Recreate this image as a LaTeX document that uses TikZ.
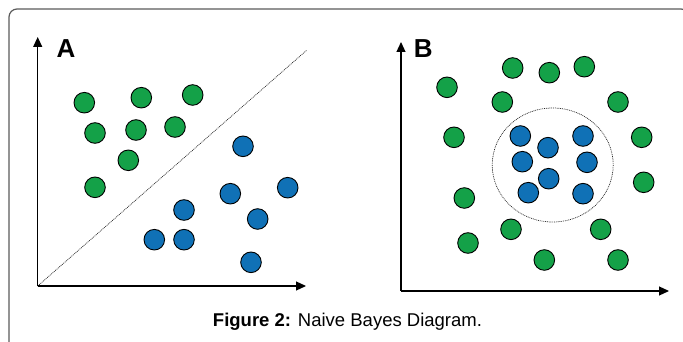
\documentclass[tikz,border=0pt]{standalone}
\usepackage{fontspec}
\setmainfont{Liberation Sans}
\usetikzlibrary{arrows.meta}
\definecolor{dotgreen}{RGB}{20,161,72}
\definecolor{dotblue}{RGB}{16,113,182}
\definecolor{framegray}{RGB}{90,90,90}
\tikzset{
  axis/.style={line width=1.2pt, black, -{Triangle[length=10pt,width=9pt]}},
  sep/.style={line width=0.7pt, black!85, dash pattern=on 0.9pt off 0.9pt},
  pt/.style={circle, draw=black, line width=0.9pt, minimum size=20.6pt, inner sep=0pt},
  gpt/.style={pt, fill=dotgreen},
  bpt/.style={pt, fill=dotblue},
  panel/.style={font=\fontsize{26}{30}\selectfont\bfseries, inner sep=0pt},
}
\begin{document}
\begin{tikzpicture}[x=1pt,y=-1pt]
\useasboundingbox (0,0) rectangle (683,342);
% outer frame, cut by the page edge on the right and bottom
\draw[framegray, line width=1.2pt, rounded corners=8pt] (9,9) rectangle (689,352);

% ---------- panel A ----------
\coordinate (oA) at (37.7,286);
\coordinate (yA) at (37.7,37);
\coordinate (xA) at (306,286);
\coordinate (sA) at (307,50);
\draw[sep] (oA) -- (sA);
\draw[axis] (oA) -- (yA);
\draw[axis] (oA) -- (xA);
\node[panel] (labA) at (66,49) {A};

\node[gpt] (ga1) at (84.3,102.7) {};
\node[gpt] (ga2) at (141.3,97.7) {};
\node[gpt] (ga3) at (192.7,95) {};
\node[gpt] (ga4) at (95,133) {};
\node[gpt] (ga5) at (136,130) {};
\node[gpt] (ga6) at (175,127) {};
\node[gpt] (ga7) at (128.3,160.3) {};
\node[gpt] (ga8) at (95,187.3) {};

\node[bpt] (ba1) at (243,146.3) {};
\node[bpt] (ba2) at (230.3,193.7) {};
\node[bpt] (ba3) at (287.7,187.7) {};
\node[bpt] (ba4) at (184,210) {};
\node[bpt] (ba5) at (257.7,219) {};
\node[bpt] (ba6) at (154.3,239.7) {};
\node[bpt] (ba7) at (184,239.7) {};
\node[bpt] (ba8) at (251,262.3) {};

% ---------- panel B ----------
\coordinate (oB) at (401,291);
\coordinate (yB) at (401,42);
\coordinate (xB) at (669,291);
\draw[axis] (oB) -- (yB);
\draw[axis] (oB) -- (xB);
\node[panel] (labB) at (423.3,49) {B};

\draw[sep] (552.7,165) ellipse [x radius=60.5, y radius=57];

\node[gpt] (gb1) at (447,87.3) {};
\node[gpt] (gb2) at (512.7,68) {};
\node[gpt] (gb3) at (549.3,72.7) {};
\node[gpt] (gb4) at (584.3,66.7) {};
\node[gpt] (gb5) at (502.3,102) {};
\node[gpt] (gb6) at (618,102) {};
\node[gpt] (gb7) at (454,137.3) {};
\node[gpt] (gb8) at (641.7,137.3) {};
\node[gpt] (gb9) at (643.7,182.3) {};
\node[gpt] (gb10) at (464.3,198) {};
\node[gpt] (gb11) at (511,229.3) {};
\node[gpt] (gb12) at (600.7,229.3) {};
\node[gpt] (gb13) at (468,243) {};
\node[gpt] (gb14) at (544.3,260) {};
\node[gpt] (gb15) at (618,260) {};

\node[bpt] (bb1) at (520.3,136) {};
\node[bpt] (bb2) at (548,147.7) {};
\node[bpt] (bb3) at (583,136) {};
\node[bpt] (bb4) at (522.3,161.7) {};
\node[bpt] (bb5) at (587,162.3) {};
\node[bpt] (bb6) at (548.7,178.7) {};
\node[bpt] (bb7) at (528.3,192.7) {};
\node[bpt] (bb8) at (583,193.7) {};

% caption
\node[font=\fontsize{18.5}{22}\selectfont, inner sep=0pt, anchor=base] (cap) at (347.5,326)
  {\textbf{Figure 2:} Naive Bayes Diagram.};
\end{tikzpicture}
\end{document}
